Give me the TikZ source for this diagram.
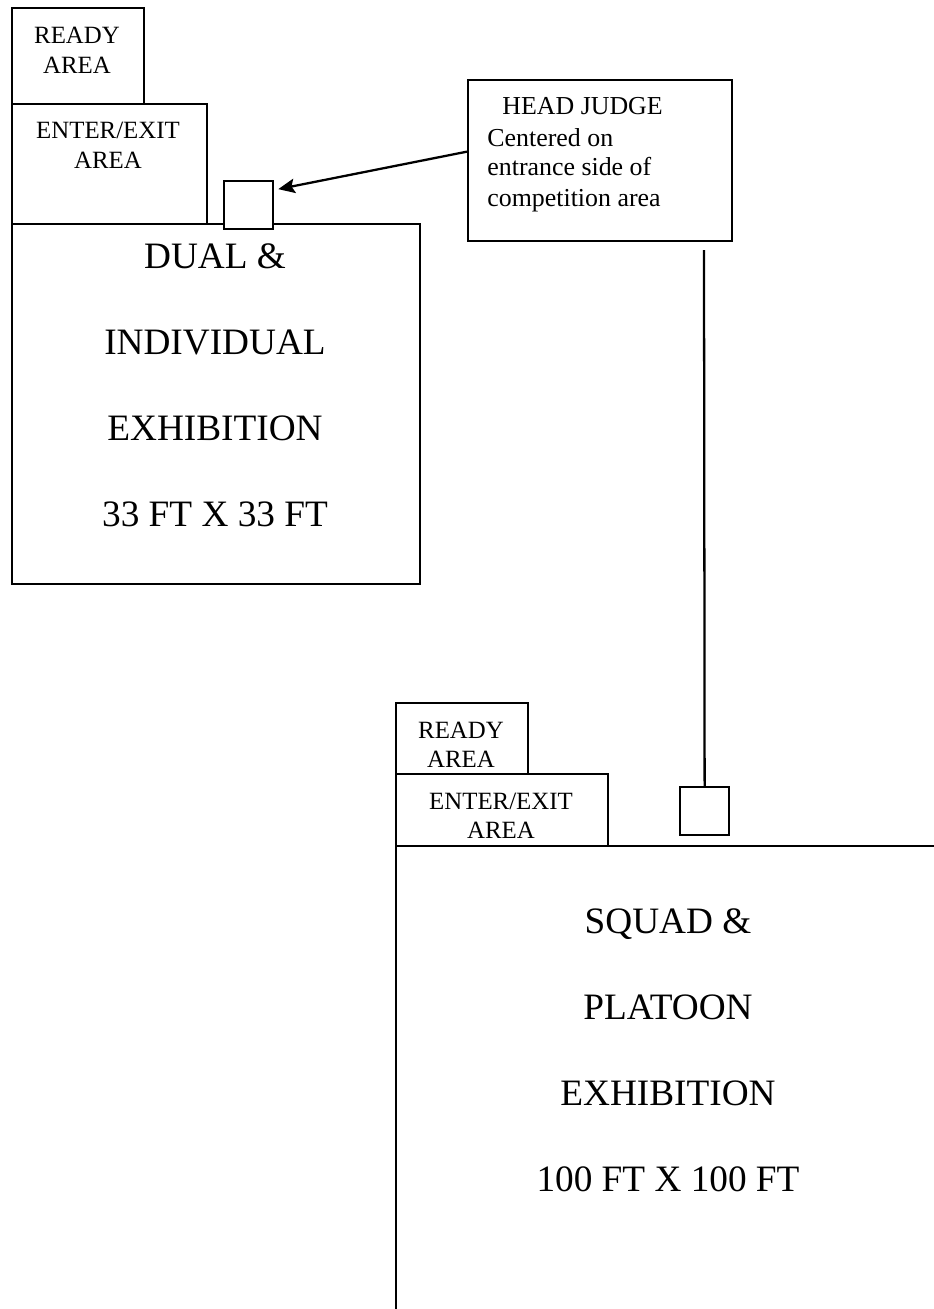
\documentclass[tikz,border=0pt]{standalone}
\usepackage{fontspec}
\setmainfont{Liberation Serif}
\usetikzlibrary{arrows.meta,positioning}

\tikzset{
    area/.style={draw, line width=1.1pt, inner sep=0pt, anchor=north west},
    box/.style 2 args={minimum width=#1*0.483pt, minimum height=#2*0.483pt},
    small/.style={font=\fontsize{12}{14}\selectfont, inner sep=0pt, anchor=base},
    note/.style={font=\fontsize{12.5}{15}\selectfont, inner sep=0pt, anchor=base west},
    big/.style={font=\fontsize{18}{21}\selectfont, inner sep=0pt, anchor=base}
}

\begin{document}
\begin{tikzpicture}[x=0.483pt, y=-0.483pt]
        \useasboundingbox (0,0) rectangle (934,1309);
        \clip (0,0) rectangle (934,1309);

        % dual & individual area
        \node[area, box={132}{96}] (ready1) at (11,7) {};
        \node[area, box={195}{120}] (enter1) at (11,103) {};
        \node[area, box={408}{360}] (dual) at (11,223) {};
        \node[area, box={49}{48}, fill=white] (judge1) at (223,180) {};
        \node[small] (ready1-a) at (77,43) {READY};
        \node[small] (ready1-b) at (77,73) {AREA};
        \node[small] (enter1-a) at (108,138) {ENTER/EXIT};
        \node[small] (enter1-b) at (108,168) {AREA};
        \foreach \t [count=\i from 0] in {DUAL \&, INDIVIDUAL, EXHIBITION, 33 FT X 33 FT}
            \node[big] (dual-\i) at (215,268+86*\i) {\t};

        % head judge note
        \node[area, box={264}{161}] (head) at (467,79) {};
        \node[note] (head-0) at (502,114) {HEAD JUDGE};
        \node[note] (head-1) at (487,146) {Centered on};
        \node[note] (head-2) at (487,175) {entrance side of};
        \node[note] (head-3) at (487,206) {competition area};

        % squad & platoon area
        \node[area, box={132}{71}] (ready2) at (395,702) {};
        \node[area, box={212}{72}] (enter2) at (395,773) {};
        \node[area, box={580}{540}] (squad) at (395,845) {};
        \node[area, box={49}{48}] (judge2) at (679,786) {};
        \node[small] (ready2-a) at (461,738) {READY};
        \node[small] (ready2-b) at (461,767) {AREA};
        \node[small] (enter2-a) at (501,809) {ENTER/EXIT};
        \node[small] (enter2-b) at (501,838) {AREA};
        \foreach \t [count=\i from 0] in {SQUAD \&, PLATOON, EXHIBITION, 100 FT X 100 FT}
            \node[big] (squad-\i) at (668,933+86*\i) {\t};

        % connectors
        \coordinate (drop) at (704,250);
        \draw[line width=1.1pt, -{Stealth[length=8pt, width=7pt, inset=1.5pt]}]
            ([shift={(0,-9)}]head.west) -- ([shift={(4,-16)}]judge1.east);
        \draw[line width=1.1pt] (drop) -- (judge2.north);
    \end{tikzpicture}
\end{document}
